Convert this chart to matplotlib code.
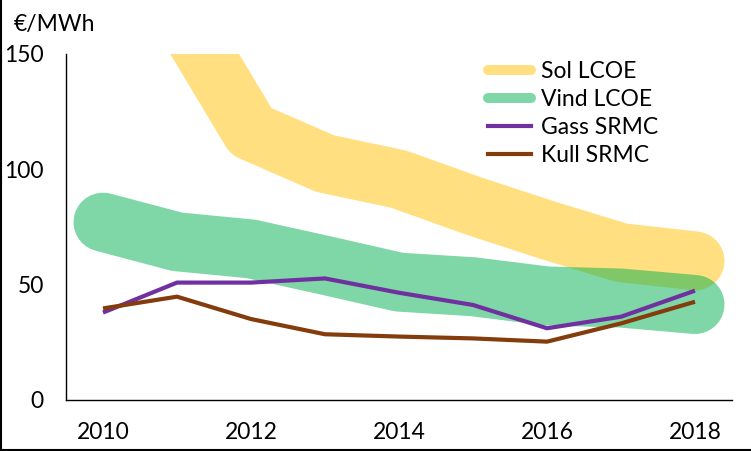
import matplotlib
matplotlib.use("Agg")
import matplotlib.pyplot as plt
from matplotlib.lines import Line2D
import numpy as np

years = [2010, 2011, 2012, 2013, 2014, 2015, 2016, 2017, 2018]
sol_years = [2011, 2012, 2013, 2014, 2015, 2016, 2017, 2018]
sol_lcoe = [170, 116.5, 102.5, 95.7, 84.2, 73.7, 63.9, 60.3]
vind_lcoe = [77.1, 68.6, 65.5, 58.4, 51.1, 49.1, 45.1, 44.2, 41.4]
gass_srmc = [37.9, 50.9, 50.9, 52.7, 46.5, 41.2, 31.1, 36.1, 47.4]
kull_srmc = [39.7, 44.8, 35.1, 28.5, 27.5, 26.7, 25.3, 33.2, 42.6]
labels = ["Sol LCOE", "Vind LCOE", "Gass SRMC", "Kull SRMC"]
xticks = [2010, 2012, 2014, 2016, 2018]
yticks = [0, 50, 100, 150]

plt.rcParams['font.family'] = ['Lato', 'DejaVu Sans']
FS = 16.5

W, H, DPI = 751, 451, 100
fig = plt.figure(figsize=(W / DPI, H / DPI), dpi=DPI)
ax = fig.add_axes([66 / W, 51 / H, (732 - 66) / W, (400 - 54) / H])

band_lw = 59 * 72 / DPI
yellow = (1.0, 0.753, 0.0, 0.5)
green = (0.0, 0.69, 0.314, 0.5)
ax.plot(sol_years, sol_lcoe, color=yellow, lw=band_lw, solid_capstyle='round',
        solid_joinstyle='round', zorder=1)
ax.plot(years, vind_lcoe, color=green, lw=band_lw, solid_capstyle='round',
        solid_joinstyle='round', zorder=2)
ax.plot(years, gass_srmc, color='#7030A0', lw=3, zorder=3, solid_capstyle='butt')
ax.plot(years, kull_srmc, color='#843C0C', lw=3, zorder=4, solid_capstyle='butt')

ax.set_xlim(2009.5, 2018.5)
ax.set_ylim(0, 150)
ax.set_xticks(xticks)
ax.set_xticklabels([str(x) for x in xticks])
ax.set_yticks(yticks)
ax.tick_params(axis='both', length=0, labelsize=FS, colors='black')
ax.tick_params(axis='y', pad=16)
ax.tick_params(axis='x', pad=16)
for s in ['top', 'right']:
    ax.spines[s].set_visible(False)
for s in ['left', 'bottom']:
    ax.spines[s].set_linewidth(1.0)
    ax.spines[s].set_color('black')

fig.text(55 / W, 1 - 25 / H, "€/MWh", fontsize=FS, ha='center', va='center')

handles = [
    Line2D([], [], color=yellow, lw=10 * 72 / DPI, solid_capstyle='round'),
    Line2D([], [], color=green, lw=10 * 72 / DPI, solid_capstyle='round'),
    Line2D([], [], color='#7030A0', lw=3),
    Line2D([], [], color='#843C0C', lw=3),
]
leg = ax.legend(handles, labels, loc='upper left', bbox_to_anchor=(488 / W, 1 - 61 / H),
                bbox_transform=fig.transFigure, frameon=False, fontsize=FS,
                handlelength=1.88, handletextpad=0.44, labelspacing=0.3,
                borderpad=0, borderaxespad=0)

# figure border (left and bottom)
fig.add_artist(Line2D([0.5 / W, 0.5 / W], [0, 1], color='black', lw=1.5,
                      transform=fig.transFigure))
fig.add_artist(Line2D([0, 1], [1.5 / H, 1.5 / H], color='black', lw=1.5,
                      transform=fig.transFigure))

fig.savefig("out.png", dpi=DPI)
